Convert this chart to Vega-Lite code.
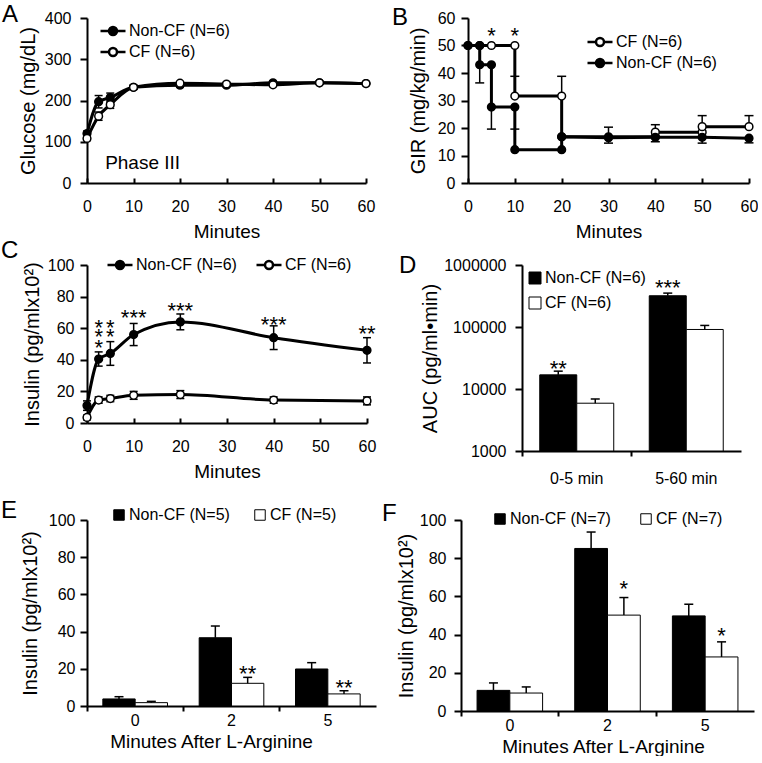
{
  "$schema": "https://vega.github.io/schema/vega-lite/v6.json",
  "autosize": {"type": "pad"},
  "padding": {"left": 1, "top": 3, "right": 0, "bottom": 0},
  "config": {
    "font": "Liberation Sans",
    "view": {"stroke": null},
    "axis": {"domainColor": "black", "domainWidth": 2, "tickColor": "black", "tickWidth": 2, "tickSize": 7, "labelColor": "black", "labelFontSize": 16, "labelFlush": false, "titleFontSize": 19, "titleFontWeight": "normal", "titleColor": "black", "grid": false},
    "axisY": {"titleFontSize": 20},
    "legend": {"labelFontSize": 16, "labelColor": "black", "padding": 0},
    "title": {"anchor": "start", "frame": "group", "fontSize": 24, "fontWeight": "normal", "baseline": "alphabetic", "color": "black"},
    "text": {"color": "black"}
  },
  "datasets": {
    "glucose": [
      {"g": "Non-CF (N=6)", "t": 0, "v": 120, "lo": 114, "hi": 126},
      {"g": "Non-CF (N=6)", "t": 2.5, "v": 197, "lo": 182, "hi": 212},
      {"g": "Non-CF (N=6)", "t": 5, "v": 207, "lo": 196, "hi": 218},
      {"g": "Non-CF (N=6)", "t": 10, "v": 232, "lo": 227, "hi": 237},
      {"g": "Non-CF (N=6)", "t": 20, "v": 237, "lo": 232, "hi": 242},
      {"g": "Non-CF (N=6)", "t": 30, "v": 237, "lo": 233, "hi": 241},
      {"g": "Non-CF (N=6)", "t": 40, "v": 243, "lo": 239, "hi": 247},
      {"g": "Non-CF (N=6)", "t": 50, "v": 243, "lo": 240, "hi": 246},
      {"g": "Non-CF (N=6)", "t": 60, "v": 241, "lo": 238, "hi": 244},
      {"g": "CF (N=6)", "t": 0, "v": 108, "lo": 103, "hi": 113},
      {"g": "CF (N=6)", "t": 2.5, "v": 162, "lo": 152, "hi": 172},
      {"g": "CF (N=6)", "t": 5, "v": 190, "lo": 181, "hi": 199},
      {"g": "CF (N=6)", "t": 10, "v": 232, "lo": 227, "hi": 237},
      {"g": "CF (N=6)", "t": 20, "v": 242, "lo": 238, "hi": 246},
      {"g": "CF (N=6)", "t": 30, "v": 240, "lo": 236, "hi": 244},
      {"g": "CF (N=6)", "t": 40, "v": 238, "lo": 234, "hi": 242},
      {"g": "CF (N=6)", "t": 50, "v": 243, "lo": 240, "hi": 246},
      {"g": "CF (N=6)", "t": 60, "v": 241, "lo": 238, "hi": 244}
    ],
    "phase": [{"t": 3.9, "v": 34, "label": "Phase III"}],
    "gir": [
      {"g": "CF (N=6)", "o": 0, "t": 0, "v": 50},
      {"g": "CF (N=6)", "o": 1, "t": 2.5, "v": 50},
      {"g": "CF (N=6)", "o": 2, "t": 5, "v": 50},
      {"g": "CF (N=6)", "o": 3, "t": 10, "v": 50},
      {"g": "CF (N=6)", "o": 4, "t": 10, "v": 31.6},
      {"g": "CF (N=6)", "o": 5, "t": 20, "v": 31.6},
      {"g": "CF (N=6)", "o": 6, "t": 20, "v": 16.8},
      {"g": "CF (N=6)", "o": 7, "t": 30, "v": 16.8},
      {"g": "CF (N=6)", "o": 8, "t": 40, "v": 16.8},
      {"g": "CF (N=6)", "o": 9, "t": 40, "v": 18.5},
      {"g": "CF (N=6)", "o": 10, "t": 50, "v": 18.5},
      {"g": "CF (N=6)", "o": 11, "t": 50, "v": 20.5},
      {"g": "CF (N=6)", "o": 12, "t": 60, "v": 20.5},
      {"g": "Non-CF (N=6)", "o": 0, "t": 0, "v": 50},
      {"g": "Non-CF (N=6)", "o": 1, "t": 2.5, "v": 50},
      {"g": "Non-CF (N=6)", "o": 2, "t": 2.5, "v": 43},
      {"g": "Non-CF (N=6)", "o": 3, "t": 5, "v": 43},
      {"g": "Non-CF (N=6)", "o": 4, "t": 5, "v": 27.6},
      {"g": "Non-CF (N=6)", "o": 5, "t": 10, "v": 27.6},
      {"g": "Non-CF (N=6)", "o": 6, "t": 10, "v": 12.1},
      {"g": "Non-CF (N=6)", "o": 7, "t": 20, "v": 12.1},
      {"g": "Non-CF (N=6)", "o": 8, "t": 20, "v": 16.8},
      {"g": "Non-CF (N=6)", "o": 9, "t": 30, "v": 16.5},
      {"g": "Non-CF (N=6)", "o": 10, "t": 40, "v": 16.6},
      {"g": "Non-CF (N=6)", "o": 11, "t": 50, "v": 16.6},
      {"g": "Non-CF (N=6)", "o": 12, "t": 60, "v": 16.3}
    ],
    "girErr": [
      {"g": "CF (N=6)", "t": 10, "v": 31.6, "e": 38.8},
      {"g": "CF (N=6)", "t": 20, "v": 31.6, "e": 38.8},
      {"g": "CF (N=6)", "t": 30, "v": 16.8, "e": 20.3},
      {"g": "CF (N=6)", "t": 40, "v": 18.5, "e": 21.2},
      {"g": "CF (N=6)", "t": 50, "v": 20.5, "e": 24.5},
      {"g": "CF (N=6)", "t": 60, "v": 20.5, "e": 24.5},
      {"g": "Non-CF (N=6)", "t": 2.5, "v": 43, "e": 36.4},
      {"g": "Non-CF (N=6)", "t": 5, "v": 27.6, "e": 19.6},
      {"g": "Non-CF (N=6)", "t": 10, "v": 27.6, "e": 19.6},
      {"g": "Non-CF (N=6)", "t": 30, "v": 16.5, "e": 14.5},
      {"g": "Non-CF (N=6)", "t": 40, "v": 16.6, "e": 15},
      {"g": "Non-CF (N=6)", "t": 50, "v": 16.6, "e": 14.5},
      {"g": "Non-CF (N=6)", "t": 60, "v": 16.3, "e": 14.6}
    ],
    "starsB": [
      {"t": 5, "v": 55.5, "s": "*"},
      {"t": 10, "v": 55.5, "s": "*"}
    ],
    "insulin": [
      {"g": "Non-CF (N=6)", "t": 0, "v": 11, "lo": 8, "hi": 14},
      {"g": "Non-CF (N=6)", "t": 2.5, "v": 40.5, "lo": 36, "hi": 45},
      {"g": "Non-CF (N=6)", "t": 5, "v": 44, "lo": 36.5, "hi": 51.5},
      {"g": "Non-CF (N=6)", "t": 10, "v": 56, "lo": 49, "hi": 63},
      {"g": "Non-CF (N=6)", "t": 20, "v": 64, "lo": 59, "hi": 69},
      {"g": "Non-CF (N=6)", "t": 40, "v": 54, "lo": 46.5, "hi": 61.5},
      {"g": "Non-CF (N=6)", "t": 60, "v": 46, "lo": 38, "hi": 54},
      {"g": "CF (N=6)", "t": 0, "v": 3.5, "lo": 2, "hi": 5},
      {"g": "CF (N=6)", "t": 2.5, "v": 14.5, "lo": 12.5, "hi": 16.5},
      {"g": "CF (N=6)", "t": 5, "v": 15.5, "lo": 13.5, "hi": 17.5},
      {"g": "CF (N=6)", "t": 10, "v": 17.5, "lo": 15, "hi": 20},
      {"g": "CF (N=6)", "t": 20, "v": 18, "lo": 15.5, "hi": 20.5},
      {"g": "CF (N=6)", "t": 40, "v": 14.5, "lo": 12.5, "hi": 16.5},
      {"g": "CF (N=6)", "t": 60, "v": 14, "lo": 11.5, "hi": 16.5}
    ],
    "starsC": [
      {"t": 2.5, "v": 64, "s": "*"},
      {"t": 2.5, "v": 58, "s": "*"},
      {"t": 2.5, "v": 51.5, "s": "*"},
      {"t": 5, "v": 64, "s": "*"},
      {"t": 5, "v": 58, "s": "*"},
      {"t": 10, "v": 70.5, "s": "***"},
      {"t": 20, "v": 74.7, "s": "***"},
      {"t": 40, "v": 66, "s": "***"},
      {"t": 60, "v": 60, "s": "**"}
    ],
    "auc": [
      {"cat": "0-5 min", "g": "Non-CF (N=6)", "v": 16900, "hi": 19400, "base": 1000},
      {"cat": "0-5 min", "g": "CF (N=6)", "v": 5900, "hi": 6900, "base": 1000},
      {"cat": "5-60 min", "g": "Non-CF (N=6)", "v": 319000, "hi": 352000, "base": 1000},
      {"cat": "5-60 min", "g": "CF (N=6)", "v": 91200, "hi": 106000, "base": 1000}
    ],
    "starsD": [
      {"cat": "0-5 min", "g": "Non-CF (N=6)", "v": 26700, "s": "**"},
      {"cat": "5-60 min", "g": "Non-CF (N=6)", "v": 524000, "s": "***"}
    ],
    "argE": [
      {"cat": "0", "g": "Non-CF (N=5)", "v": 3.8, "hi": 5.0},
      {"cat": "0", "g": "CF (N=5)", "v": 1.8, "hi": 2.5},
      {"cat": "2", "g": "Non-CF (N=5)", "v": 36.7, "hi": 43},
      {"cat": "2", "g": "CF (N=5)", "v": 12.2, "hi": 15.4},
      {"cat": "5", "g": "Non-CF (N=5)", "v": 19.9, "hi": 23.3},
      {"cat": "5", "g": "CF (N=5)", "v": 6.5, "hi": 8.2}
    ],
    "starsE": [
      {"cat": "2", "g": "CF (N=5)", "v": 20.6, "s": "**"},
      {"cat": "5", "g": "CF (N=5)", "v": 13.1, "s": "**"}
    ],
    "argF": [
      {"cat": "0", "g": "Non-CF (N=7)", "v": 10.8, "hi": 14.7},
      {"cat": "0", "g": "CF (N=7)", "v": 9.4, "hi": 12.6},
      {"cat": "2", "g": "Non-CF (N=7)", "v": 85.1, "hi": 93.7},
      {"cat": "2", "g": "CF (N=7)", "v": 50.2, "hi": 59.4},
      {"cat": "5", "g": "Non-CF (N=7)", "v": 49.8, "hi": 55.9},
      {"cat": "5", "g": "CF (N=7)", "v": 28.3, "hi": 36.2}
    ],
    "starsF": [
      {"cat": "2", "g": "CF (N=7)", "v": 67, "s": "*"},
      {"cat": "5", "g": "CF (N=7)", "v": 42.5, "s": "*"}
    ]
  },
  "spacing": -2,
  "resolve": {"scale": {"fill": "independent", "xOffset": "independent", "x": "independent", "y": "independent"}, "legend": {"fill": "independent"}},
  "vconcat": [
    {
      "hconcat": [
        {
          "width": 279, "height": 165,
          "title": {"text": "A", "dx": -85, "offset": -17},
          "data": {"name": "glucose"},
          "encoding": {
            "x": {"field": "t", "type": "quantitative", "title": "Minutes", "scale": {"domain": [0, 60], "nice": false}, "axis": {"values": [0, 10, 20, 30, 40, 50, 60], "tickSize": -5, "labelPadding": 20, "titlePadding": 8}},
            "y": {"field": "v", "type": "quantitative", "title": "Glucose (mg/dL)", "scale": {"domain": [0, 400], "nice": false}, "axis": {"values": [0, 100, 200, 300, 400], "labelPadding": 9, "titlePadding": 6}}
          },
          "layer": [
            {"mark": {"type": "rule", "color": "black", "strokeWidth": 1.5}, "encoding": {"y": {"field": "lo", "type": "quantitative", "title": "Glucose (mg/dL)"}, "y2": {"field": "hi"}}},
            {"mark": {"type": "tick", "orient": "horizontal", "size": 8, "thickness": 1.5, "color": "black", "opacity": 1}, "encoding": {"y": {"field": "hi", "type": "quantitative", "title": "Glucose (mg/dL)"}}},
            {"mark": {"type": "tick", "orient": "horizontal", "size": 8, "thickness": 1.5, "color": "black", "opacity": 1}, "encoding": {"y": {"field": "lo", "type": "quantitative", "title": "Glucose (mg/dL)"}}},
            {"mark": {"type": "line", "interpolate": "monotone", "color": "black", "strokeWidth": 3}, "encoding": {"detail": {"field": "g"}}},
            {"mark": {"type": "point", "filled": true, "stroke": "black", "strokeWidth": 1.5, "size": 60, "opacity": 1},
             "encoding": {"fill": {"field": "g", "type": "nominal", "scale": {"domain": ["Non-CF (N=6)", "CF (N=6)"], "range": ["black", "white"]},
               "legend": {"title": null, "orient": "none", "legendX": 12, "legendY": 3, "symbolType": "M-1,0H-0.32M0.32,0H1M-0.32,0A0.32,0.32,0,1,1,0.32,0A0.32,0.32,0,1,1,-0.32,0Z", "symbolSize": 625, "symbolStrokeWidth": 2.5, "symbolStrokeColor": "black", "labelOffset": 2, "rowPadding": 1, "clipHeight": 20,
                 "encode": {"symbols": {"update": {"size": {"value": 625}, "strokeWidth": {"value": 2.5}, "stroke": {"value": "black"}}}}}}}},
            {"data": {"name": "phase"}, "mark": {"type": "text", "align": "left", "baseline": "alphabetic", "fontSize": 19}, "encoding": {"text": {"field": "label"}}}
          ]
        },
        {
          "width": 281, "height": 165,
          "title": {"text": "B", "dx": -76, "offset": -20},
          "encoding": {
            "x": {"field": "t", "type": "quantitative", "title": "Minutes", "scale": {"domain": [0, 60], "nice": false}, "axis": {"values": [0, 10, 20, 30, 40, 50, 60], "tickSize": -5, "labelPadding": 20, "titlePadding": 8}},
            "y": {"field": "v", "type": "quantitative", "title": "GIR (mg/kg/min)", "scale": {"domain": [0, 60], "nice": false}, "axis": {"values": [0, 10, 20, 30, 40, 50, 60], "labelPadding": 6, "titlePadding": 9}}
          },
          "layer": [
            {"data": {"name": "girErr"}, "mark": {"type": "rule", "color": "black", "strokeWidth": 1.5}, "encoding": {"y2": {"field": "e"}}},
            {"data": {"name": "girErr"}, "mark": {"type": "tick", "orient": "horizontal", "size": 9, "thickness": 1.5, "color": "black", "opacity": 1}, "encoding": {"y": {"field": "e", "type": "quantitative", "title": "GIR (mg/kg/min)"}}},
            {"data": {"name": "gir"}, "mark": {"type": "line", "interpolate": "linear", "color": "black", "strokeWidth": 3}, "encoding": {"detail": {"field": "g"}, "order": {"field": "o"}}},
            {"data": {"name": "gir"}, "mark": {"type": "point", "filled": true, "stroke": "black", "strokeWidth": 1.5, "size": 60, "opacity": 1},
             "encoding": {"fill": {"field": "g", "type": "nominal", "scale": {"domain": ["CF (N=6)", "Non-CF (N=6)"], "range": ["white", "black"]},
               "legend": {"title": null, "orient": "none", "legendX": 118, "legendY": 14, "symbolType": "M-1,0H-0.32M0.32,0H1M-0.32,0A0.32,0.32,0,1,1,0.32,0A0.32,0.32,0,1,1,-0.32,0Z", "symbolSize": 625, "symbolStrokeWidth": 2.5, "symbolStrokeColor": "black", "labelOffset": 2, "rowPadding": 1, "clipHeight": 20,
                 "encode": {"symbols": {"update": {"size": {"value": 625}, "strokeWidth": {"value": 2.5}, "stroke": {"value": "black"}}}}}}}},
            {"data": {"name": "starsB"}, "mark": {"type": "text", "align": "center", "baseline": "alphabetic", "fontSize": 22, "dy": 13}, "encoding": {"text": {"field": "s"}}}
          ]
        }
      ],
      "spacing": 102,
      "bounds": "flush",
      "resolve": {"scale": {"fill": "independent", "x": "independent", "y": "independent"}, "legend": {"fill": "independent"}}
    },
    {
      "spacing": 13,
      "resolve": {"scale": {"fill": "independent", "xOffset": "independent", "x": "independent", "y": "independent"}, "legend": {"fill": "independent"}},
      "vconcat": [
        {
          "hconcat": [
            {
              "width": 280, "height": 158,
              "title": {"text": "C", "dx": -86, "offset": -8},
              "encoding": {
                "x": {"field": "t", "type": "quantitative", "title": "Minutes", "scale": {"domain": [0, 60], "nice": false}, "axis": {"values": [0, 10, 20, 30, 40, 50, 60], "tickSize": -5, "labelPadding": 20, "titlePadding": 8}},
                "y": {"field": "v", "type": "quantitative", "title": "Insulin (pg/mlx10²)", "scale": {"domain": [0, 100], "nice": false}, "axis": {"values": [0, 20, 40, 60, 80, 100], "labelPadding": 6, "titlePadding": 5}}
              },
              "layer": [
                {"data": {"name": "insulin"}, "mark": {"type": "rule", "color": "black", "strokeWidth": 1.5}, "encoding": {"y": {"field": "lo", "type": "quantitative", "title": "Insulin (pg/mlx10²)"}, "y2": {"field": "hi"}}},
                {"data": {"name": "insulin"}, "mark": {"type": "tick", "orient": "horizontal", "size": 8, "thickness": 1.5, "color": "black", "opacity": 1}, "encoding": {"y": {"field": "hi", "type": "quantitative", "title": "Insulin (pg/mlx10²)"}}},
                {"data": {"name": "insulin"}, "mark": {"type": "tick", "orient": "horizontal", "size": 8, "thickness": 1.5, "color": "black", "opacity": 1}, "encoding": {"y": {"field": "lo", "type": "quantitative", "title": "Insulin (pg/mlx10²)"}}},
                {"data": {"name": "insulin"}, "mark": {"type": "line", "interpolate": "monotone", "color": "black", "strokeWidth": 3}, "encoding": {"detail": {"field": "g"}}},
                {"data": {"name": "insulin"}, "mark": {"type": "point", "filled": true, "stroke": "black", "strokeWidth": 1.5, "size": 60, "opacity": 1},
                 "encoding": {"fill": {"field": "g", "type": "nominal", "scale": {"domain": ["Non-CF (N=6)", "CF (N=6)"], "range": ["black", "white"]},
                   "legend": {"title": null, "orient": "none", "direction": "horizontal", "columns": 2, "legendX": 19, "legendY": -10, "symbolType": "M-1,0H-0.32M0.32,0H1M-0.32,0A0.32,0.32,0,1,1,0.32,0A0.32,0.32,0,1,1,-0.32,0Z", "symbolSize": 625, "symbolStrokeWidth": 2.5, "symbolStrokeColor": "black", "labelOffset": 2, "columnPadding": 18, "clipHeight": 20,
                     "encode": {"symbols": {"update": {"size": {"value": 625}, "strokeWidth": {"value": 2.5}, "stroke": {"value": "black"}}}}}}}},
                {"data": {"name": "starsC"}, "mark": {"type": "text", "align": "center", "baseline": "alphabetic", "fontSize": 22, "dy": 13}, "encoding": {"text": {"field": "s"}}}
              ]
            },
            {
              "width": 219, "height": 186,
              "title": {"text": "D", "dx": -123, "offset": -21},
              "data": {"name": "auc"},
              "resolve": {"axis": {"x": "independent"}},
              "encoding": {
                "x": {"field": "cat", "type": "nominal", "sort": null, "scale": {"paddingInner": 0, "paddingOuter": 0}, "axis": null},
                "xOffset": {"field": "g", "type": "nominal", "sort": null, "scale": {"domain": ["Non-CF (N=6)", "CF (N=6)"], "paddingInner": 0, "paddingOuter": 0.48}},
                "y": {"field": "v", "type": "quantitative", "title": "AUC (pg/ml•min)", "scale": {"type": "log", "domain": [1000, 1000000], "nice": false}, "axis": {"values": [1000, 10000, 100000, 1000000], "format": "d", "labelPadding": 9, "titlePadding": 3}}
              },
              "layer": [
                {"mark": {"type": "bar", "stroke": "black", "strokeWidth": 1},
                 "encoding": {
                   "x": {"field": "cat", "type": "nominal", "sort": null, "scale": {"paddingInner": 0, "paddingOuter": 0}, "axis": {"orient": "bottom", "title": null, "ticks": false, "labelAngle": 0, "labelPadding": 19}},
                   "y2": {"field": "base"},
                   "fill": {"field": "g", "type": "nominal", "scale": {"domain": ["Non-CF (N=6)", "CF (N=6)"], "range": ["black", "white"]},
                     "legend": {"title": null, "orient": "none", "legendX": 5, "legendY": 5, "symbolType": "square", "symbolSize": 144, "symbolStrokeColor": "black", "symbolStrokeWidth": 1, "labelOffset": 2, "rowPadding": 9}}}},
                {"mark": {"type": "rule", "color": "black", "strokeWidth": 1.5},
                 "encoding": {
                   "x": {"field": "cat", "type": "nominal", "sort": null, "axis": {"orient": "bottom", "title": null, "labels": false, "ticks": true, "bandPosition": 0, "domain": false, "tickSize": 5}},
                   "y2": {"field": "hi"}}},
                {"mark": {"type": "tick", "orient": "horizontal", "size": 9, "thickness": 1.5, "color": "black", "opacity": 1}, "encoding": {"y": {"field": "hi", "type": "quantitative", "title": "AUC (pg/ml•min)"}}},
                {"data": {"name": "starsD"}, "mark": {"type": "text", "align": "center", "baseline": "alphabetic", "fontSize": 22, "dy": 13}, "encoding": {"text": {"field": "s"}}}
              ]
            }
          ],
          "spacing": 155,
          "bounds": "flush",
          "resolve": {"scale": {"fill": "independent", "xOffset": "independent", "x": "independent", "y": "independent"}, "legend": {"fill": "independent"}}
        },
        {
          "hconcat": [
            {
              "width": 289, "height": 186,
              "title": {"text": "E", "dx": -86, "offset": -16},
              "data": {"name": "argE"},
              "resolve": {"axis": {"x": "independent"}},
              "encoding": {
                "x": {"field": "cat", "type": "nominal", "sort": null, "scale": {"paddingInner": 0, "paddingOuter": 0}, "axis": null},
                "xOffset": {"field": "g", "type": "nominal", "sort": null, "scale": {"domain": ["Non-CF (N=5)", "CF (N=5)"], "paddingInner": 0, "paddingOuter": 0.49}},
                "y": {"field": "v", "type": "quantitative", "title": "Insulin (pg/mlx10²)", "scale": {"domain": [0, 100], "nice": false}, "axis": {"values": [0, 20, 40, 60, 80, 100], "labelPadding": 5, "titlePadding": 8}}
              },
              "layer": [
                {"mark": {"type": "bar", "stroke": "black", "strokeWidth": 1},
                 "encoding": {
                   "x": {"field": "cat", "type": "nominal", "sort": null, "scale": {"paddingInner": 0, "paddingOuter": 0}, "axis": {"orient": "bottom", "title": "Minutes After L-Arginine", "titleX": 124, "ticks": false, "labelAngle": 0, "labelPadding": 6, "titlePadding": 4}},
                   "fill": {"field": "g", "type": "nominal", "scale": {"domain": ["Non-CF (N=5)", "CF (N=5)"], "range": ["black", "white"]},
                     "legend": {"title": null, "orient": "none", "direction": "horizontal", "columns": 2, "legendX": 24, "legendY": -13, "symbolType": "square", "symbolSize": 110, "symbolStrokeColor": "black", "symbolStrokeWidth": 1, "labelOffset": 2, "columnPadding": 22}}}},
                {"mark": {"type": "rule", "color": "black", "strokeWidth": 1.5},
                 "encoding": {
                   "x": {"field": "cat", "type": "nominal", "sort": null, "axis": {"orient": "bottom", "title": null, "labels": false, "ticks": true, "bandPosition": 0, "domain": false, "tickSize": 5}},
                   "y2": {"field": "hi"}}},
                {"mark": {"type": "tick", "orient": "horizontal", "size": 9, "thickness": 1.5, "color": "black", "opacity": 1}, "encoding": {"y": {"field": "hi", "type": "quantitative", "title": "Insulin (pg/mlx10²)"}}},
                {"data": {"name": "starsE"}, "mark": {"type": "text", "align": "center", "baseline": "alphabetic", "fontSize": 22, "dy": 13}, "encoding": {"text": {"field": "s"}}}
              ]
            },
            {
              "width": 293, "height": 191,
              "title": {"text": "F", "dx": -79, "offset": -15},
              "data": {"name": "argF"},
              "resolve": {"axis": {"x": "independent"}},
              "encoding": {
                "x": {"field": "cat", "type": "nominal", "sort": null, "scale": {"paddingInner": 0, "paddingOuter": 0}, "axis": null},
                "xOffset": {"field": "g", "type": "nominal", "sort": null, "scale": {"domain": ["Non-CF (N=7)", "CF (N=7)"], "paddingInner": 0, "paddingOuter": 0.49}},
                "y": {"field": "v", "type": "quantitative", "title": "Insulin (pg/mlx10²)", "scale": {"domain": [0, 100], "nice": false}, "axis": {"values": [0, 20, 40, 60, 80, 100], "labelPadding": 8, "titlePadding": 3}}
              },
              "layer": [
                {"mark": {"type": "bar", "stroke": "black", "strokeWidth": 1},
                 "encoding": {
                   "x": {"field": "cat", "type": "nominal", "sort": null, "scale": {"paddingInner": 0, "paddingOuter": 0}, "axis": {"orient": "bottom", "title": "Minutes After L-Arginine", "titleX": 142, "ticks": false, "labelAngle": 0, "labelPadding": 6, "titlePadding": 4}},
                   "fill": {"field": "g", "type": "nominal", "scale": {"domain": ["Non-CF (N=7)", "CF (N=7)"], "range": ["black", "white"]},
                     "legend": {"title": null, "orient": "none", "direction": "horizontal", "columns": 2, "legendX": 31, "legendY": -9, "symbolType": "square", "symbolSize": 110, "symbolStrokeColor": "black", "symbolStrokeWidth": 1, "labelOffset": 2, "columnPadding": 27}}}},
                {"mark": {"type": "rule", "color": "black", "strokeWidth": 1.5},
                 "encoding": {
                   "x": {"field": "cat", "type": "nominal", "sort": null, "axis": {"orient": "bottom", "title": null, "labels": false, "ticks": true, "bandPosition": 0, "domain": false, "tickSize": 5}},
                   "y2": {"field": "hi"}}},
                {"mark": {"type": "tick", "orient": "horizontal", "size": 9, "thickness": 1.5, "color": "black", "opacity": 1}, "encoding": {"y": {"field": "hi", "type": "quantitative", "title": "Insulin (pg/mlx10²)"}}},
                {"data": {"name": "starsF"}, "mark": {"type": "text", "align": "center", "baseline": "alphabetic", "fontSize": 22, "dy": 13}, "encoding": {"text": {"field": "s"}}}
              ]
            }
          ],
          "spacing": 85,
          "bounds": "flush",
          "resolve": {"scale": {"fill": "independent", "xOffset": "independent", "x": "independent", "y": "independent"}, "legend": {"fill": "independent"}}
        }
      ]
    }
  ]
}
